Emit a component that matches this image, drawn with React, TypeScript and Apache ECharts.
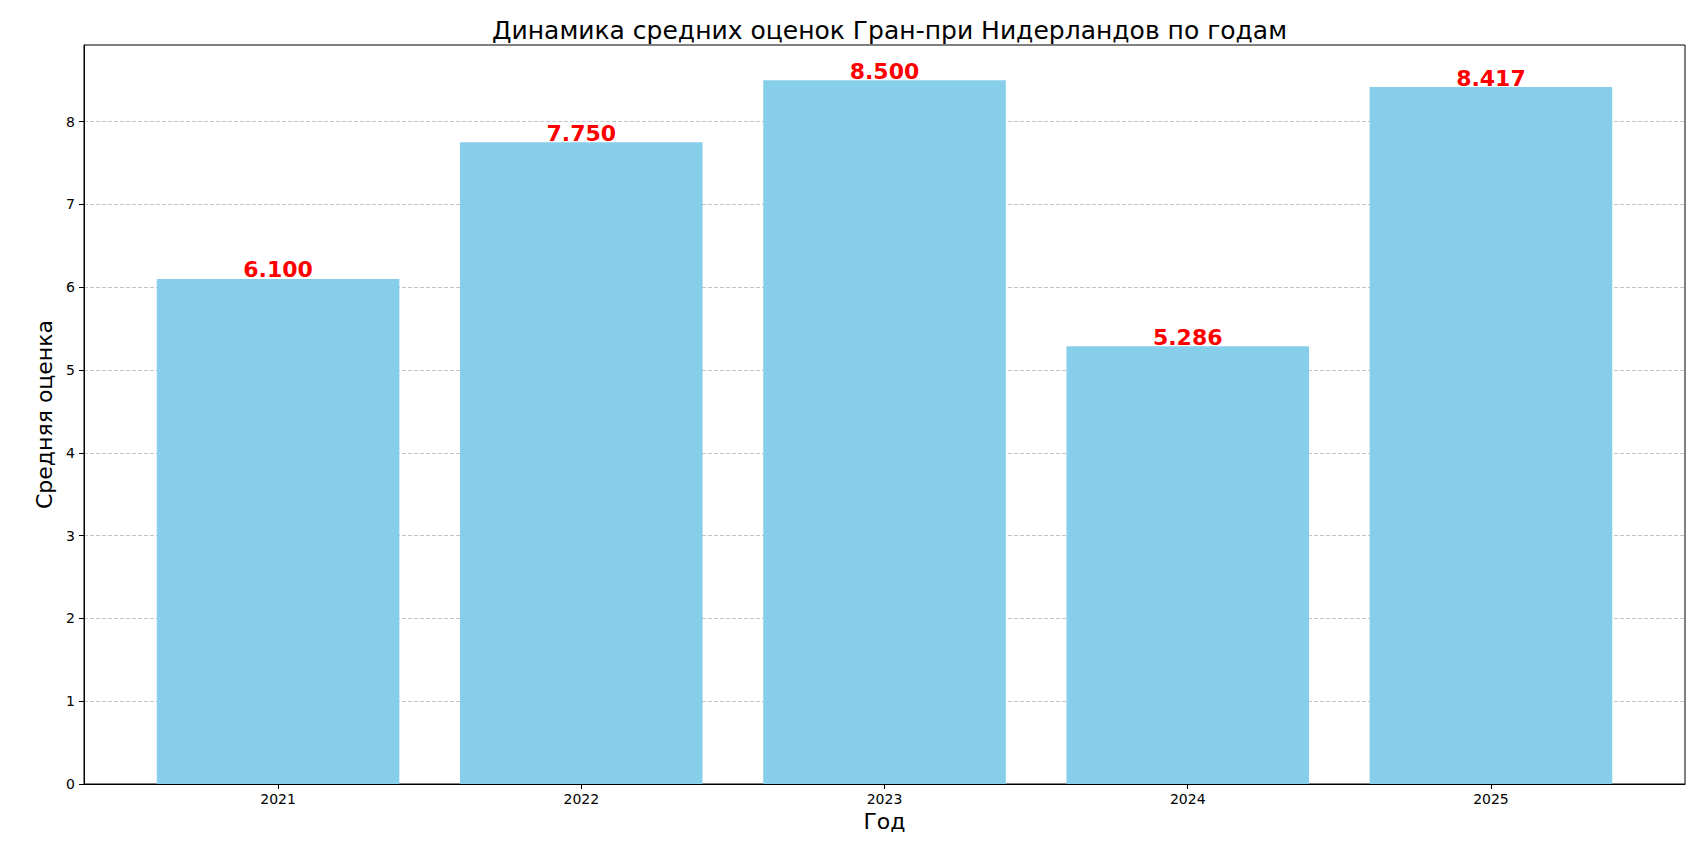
import React, { useEffect, useRef } from "react";
import * as echarts from "echarts";

const years = ["2021", "2022", "2023", "2024", "2025"];
const avgScores = [6.1, 7.75, 8.5, 5.286, 8.417];
const yTicks = [0, 1, 2, 3, 4, 5, 6, 7, 8];
const titleText = "Динамика средних оценок Гран-при Нидерландов по годам";
const xName = "Год";
const yName = "Средняя оценка";

const FONT = "DejaVu Sans";

export default function App() {
  const ref = useRef<HTMLDivElement>(null);
  useEffect(() => {
    document.body.style.margin = "0";
    const chart = echarts.init(ref.current!, null, { renderer: "svg" });
    const gridLeft = 84;
    const gridTop = 45;
    const gridWidth = 1601;
    const gridHeight = 739;
    const xMin = -0.64;
    const xMax = years.length - 1 + 0.64;
    const barPx = (0.8 * gridWidth) / (xMax - xMin);
    const idx = years.map((_, i) => i);
    chart.setOption({
      animation: false,
      backgroundColor: "#ffffff",
      title: {
        text: titleText,
        left: gridLeft + gridWidth / 2,
        textAlign: "center",
        top: 12,
        textStyle: {
          fontFamily: FONT,
          fontSize: 25,
          fontWeight: "normal",
          color: "#000000",
          lineHeight: 26,
        },
      },
      grid: {
        left: gridLeft,
        top: gridTop,
        width: gridWidth,
        height: gridHeight,
        show: true,
        borderColor: "#000000",
        borderWidth: 1,
        backgroundColor: "transparent",
      },
      xAxis: {
        type: "value",
        min: xMin,
        max: xMax,
        name: xName,
        nameLocation: "middle",
        nameGap: 26,
        nameTextStyle: { fontFamily: FONT, fontSize: 22, color: "#000000" },
        axisLine: { show: true, onZero: false, lineStyle: { color: "#000000", width: 1 } },
        axisTick: {
          show: true,
          customValues: idx,
          length: 5,
          lineStyle: { color: "#000000", width: 1 },
        },
        axisLabel: {
          customValues: idx,
          formatter: (v: number) => years[Math.round(v)] ?? "",
          fontFamily: FONT,
          fontSize: 14,
          color: "#000000",
          margin: 8,
        },
        splitLine: { show: false },
      },
      yAxis: {
        type: "value",
        min: 0,
        max: 8.925,
        name: yName,
        nameLocation: "middle",
        nameGap: 20,
        nameTextStyle: { fontFamily: FONT, fontSize: 22, color: "#000000" },
        axisLine: { show: true, onZero: false, lineStyle: { color: "#000000", width: 1 } },
        axisTick: {
          show: true,
          customValues: yTicks,
          length: 5,
          lineStyle: { color: "#000000", width: 1 },
        },
        axisLabel: {
          customValues: yTicks,
          fontFamily: FONT,
          fontSize: 14,
          color: "#000000",
          margin: 9,
        },
        splitLine: {
          show: true,
          lineStyle: { color: "#c4c4c4", type: [4, 2], width: 1 },
        },
      },
      series: [
        {
          type: "bar",
          data: avgScores.map((v, i) => [i, v]),
          barWidth: barPx,
          itemStyle: { color: "#87CEEB" },
          label: {
            show: true,
            position: "top",
            distance: -2,
            formatter: (p: any) => (p.value[1] as number).toFixed(3),
            fontFamily: FONT,
            fontSize: 22,
            fontWeight: "bold",
            color: "#ff0000",
          },
          z: 3,
        },
      ],
    });
    return () => chart.dispose();
  }, []);
  return <div ref={ref} style={{ width: 1706, height: 852 }} />;
}
